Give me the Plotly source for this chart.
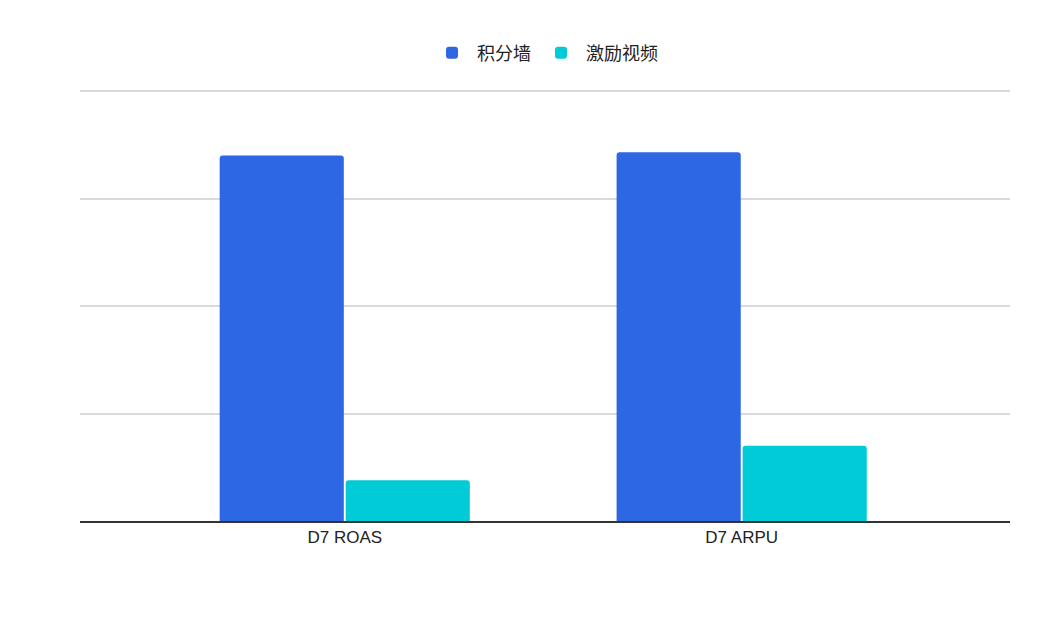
import plotly.graph_objects as go

categories = ["D7 ROAS", "D7 ARPU"]
series_names = ["积分墙", "激励视频"]
wall_values = [3.40, 3.43]
video_values = [0.38, 0.70]
colors = ["#2d67e3", "#00cbd6"]

xpos = list(range(len(categories)))
fig = go.Figure()
for name, vals, c in zip(series_names, [wall_values, video_values], colors):
    fig.add_bar(x=xpos, y=vals, name=name, marker_color=c, marker_line_width=0)

fig.update_layout(
    width=1042, height=644,
    margin=dict(l=72, r=40, t=82, b=131),
    paper_bgcolor="white", plot_bgcolor="white",
    barmode="group", bargap=0.365, bargroupgap=0.015, barcornerradius=3,
    font=dict(family="Liberation Sans, Noto Sans CJK SC, sans-serif", size=17, color="#222"),
    legend=dict(orientation="h", x=0.5, xanchor="center", y=0.93, yanchor="middle",
                yref="container", font=dict(size=18, family="Noto Sans CJK SC"),
                itemsizing="constant", itemwidth=40),
    showlegend=True,
    xaxis=dict(range=[-0.667, 1.676], tickvals=xpos, ticktext=categories,
               showline=True, linecolor="#333", linewidth=1.5, ticks="",
               showgrid=False, zeroline=False, tickfont=dict(size=17)),
    yaxis=dict(range=[0, 4.01], dtick=1, showticklabels=False, gridcolor="#d9d9d9",
               gridwidth=1.5, zeroline=False),
)
fig.write_html("out.html")
